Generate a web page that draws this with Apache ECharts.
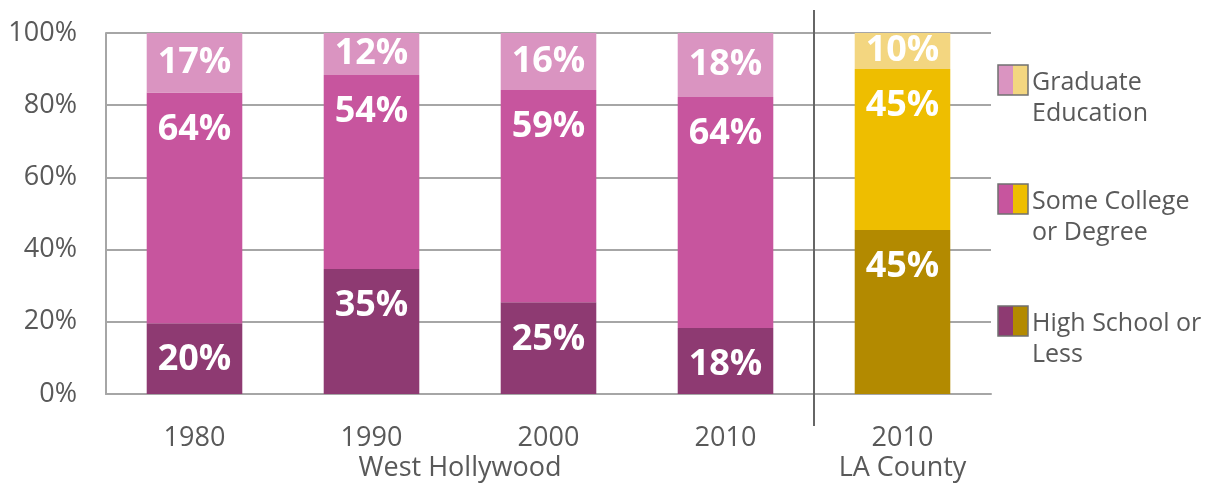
<!DOCTYPE html>
<html>
<head>
<meta charset="utf-8">
<script src="https://cdn.jsdelivr.net/npm/echarts@6/dist/echarts.min.js"></script>
<style>
  html, body { margin: 0; padding: 0; background: #fff; }
  #main { width: 1210px; height: 486px; }
</style>
</head>
<body>
<div id="main"></div>
<script>
// categories (last one is LA County)
var categories = ['1980', '1990', '2000', '2010', '2010\nLA County'];
var groupLabel = 'West Hollywood';
var seriesNames = ['High School or Less', 'Some College or Degree', 'Graduate Education'];
var legendLines = ['High School or\nLess', 'Some College\nor Degree', 'Graduate\nEducation'];

// shares (%)
var highSchool  = [19.6, 34.6, 25.4, 18.3, 45.4];
var someCollege = [63.9, 53.8, 58.8, 64.0, 44.6];
var graduate    = [16.5, 11.6, 15.8, 17.7, 10.0];
var yTicks = [0, 20, 40, 60, 80, 100];

var wehoColors = ['#8E3A72', '#C7559E', '#DA94C1'];
var laColors   = ['#B38A00', '#EEBE00', '#F3D680'];

var FONT = 'Open Sans';
var GRAY = '#595959';
var LINE = '#A6A6A6';

var chart = echarts.init(document.getElementById('main'));

function makeSeries(idx, values) {
  return {
    name: seriesNames[idx],
    type: 'bar',
    stack: 'all',
    barWidth: '54%',
    data: values,
    itemStyle: {
      color: function (p) { return p.dataIndex === 4 ? laColors[idx] : wehoColors[idx]; }
    },
    label: {
      show: true,
      position: idx === 2 ? 'inside' : 'insideTop',
      distance: 19,
      color: '#fff',
      fontFamily: FONT,
      fontWeight: 'bold',
      fontSize: 36,
      formatter: function (p) { return Math.round(p.value) + '%'; }
    }
  };
}

var option = {
  animation: false,
  grid: { left: 106, right: 219, top: 33, bottom: 92 },
  xAxis: {
    type: 'category',
    data: categories,
    axisLine: { lineStyle: { color: LINE, width: 2 } },
    axisTick: { show: false },
    axisLabel: { color: GRAY, fontFamily: FONT, fontSize: 27, lineHeight: 30, margin: 29 }
  },
  yAxis: {
    type: 'value',
    min: yTicks[0],
    max: yTicks[yTicks.length - 1],
    interval: 20,
    axisLine: { show: true, lineStyle: { color: LINE, width: 2 } },
    axisTick: { show: false },
    splitLine: { lineStyle: { color: LINE, width: 2 } },
    axisLabel: { color: GRAY, fontFamily: FONT, fontSize: 27, margin: 29, formatter: '{value}%' }
  },
  series: [
    makeSeries(0, highSchool),
    makeSeries(1, someCollege),
    makeSeries(2, graduate)
  ]
};
chart.setOption(option);

// separator line, group label and two-colour legend
var x3 = chart.convertToPixel({ xAxisIndex: 0 }, 3);
var x4 = chart.convertToPixel({ xAxisIndex: 0 }, 4);
var x1 = chart.convertToPixel({ xAxisIndex: 0 }, 1);
var x2 = chart.convertToPixel({ xAxisIndex: 0 }, 2);
var yTop = chart.convertToPixel({ yAxisIndex: 0 }, 100);
var yBot = chart.convertToPixel({ yAxisIndex: 0 }, 0);
var sepX = Math.round((x3 + x4) / 2);

var graphics = [
  {
    type: 'line',
    shape: { x1: sepX, y1: yTop - 23, x2: sepX, y2: yBot + 32 },
    style: { stroke: '#666', lineWidth: 2 },
    z: 10
  },
  {
    type: 'text',
    x: (x1 + x2) / 2,
    y: yBot + 29 + 30,
    style: {
      text: groupLabel, fill: GRAY, font: '27px "' + FONT + '"',
      textAlign: 'center', textVerticalAlign: 'top', lineHeight: 30
    }
  }
];

var legendTops = [306, 184, 65];
for (var i = 0; i < 3; i++) {
  var t = legendTops[i];
  graphics.push({ type: 'rect', shape: { x: 998, y: t, width: 15, height: 30 }, style: { fill: wehoColors[i] } });
  graphics.push({ type: 'rect', shape: { x: 1013, y: t, width: 15, height: 30 }, style: { fill: laColors[i] } });
  graphics.push({ type: 'rect', shape: { x: 998, y: t, width: 30, height: 30 }, style: { fill: 'none', stroke: '#707070', lineWidth: 1.5 } });
  graphics.push({
    type: 'text', x: 1032, y: t + 2,
    style: { text: legendLines[i], fill: GRAY, font: '25px "' + FONT + '"', lineHeight: 31, textVerticalAlign: 'top' }
  });
}
chart.setOption({ graphic: graphics });
</script>
</body>
</html>
